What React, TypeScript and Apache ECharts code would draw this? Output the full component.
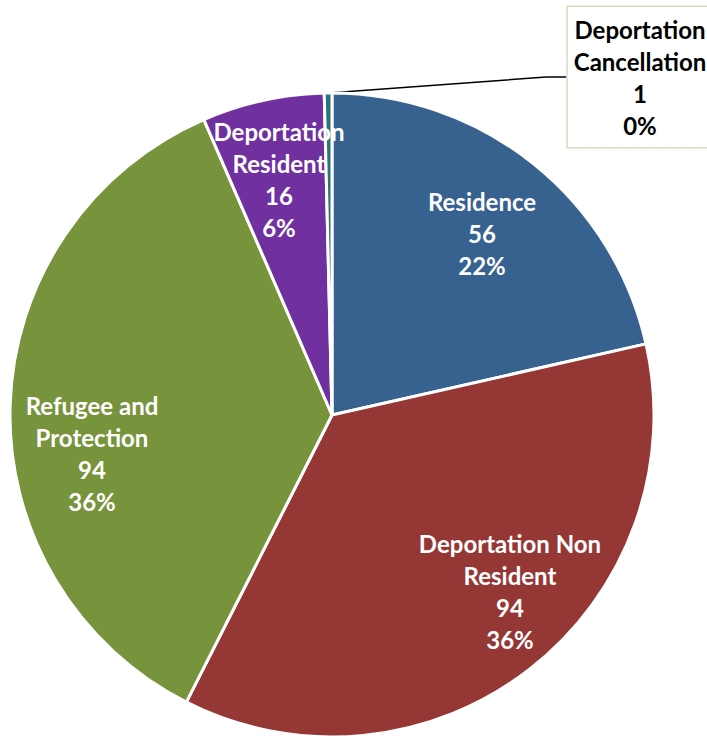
import React, { useEffect, useRef } from "react";
import * as echarts from "echarts";

const categories = [
  "Residence",
  "Deportation Non\nResident",
  "Refugee and\nProtection",
  "Deportation\nResident",
  "Deportation\nCancellation",
];
const values = [56, 94, 94, 16, 1];
const colors = ["#37618F", "#953735", "#77933C", "#7030A0", "#2A7479"];

// label centres (layout only)
const labelPos = [
  [482, 233],
  [510, 591],
  [92, 453],
  [279, 179],
  [640, 77],
];

export default function App() {
  const ref = useRef<HTMLDivElement>(null);
  useEffect(() => {
    if (!ref.current) return;
    const chart = echarts.init(ref.current, null, { renderer: "svg" });
    const font = "Lato, 'Noto Sans', sans-serif";
    chart.setOption({
      animation: false,
      backgroundColor: "#ffffff",
      series: [
        {
          type: "pie",
          center: [332, 415],
          radius: 322,
          startAngle: 90,
          clockwise: true,
          avoidLabelOverlap: false,
          percentPrecision: 0,
          itemStyle: { borderColor: "#ffffff", borderWidth: 3 },
          label: {
            show: true,
            position: "inside",
            formatter: "{b}\n{c}\n{d}%",
            color: "#ffffff",
            fontFamily: font,
            fontWeight: "bold",
            fontSize: 24,
            lineHeight: 32,
            align: "center",
          },
          labelLine: { show: false },
          labelLayout: (p: any) => {
            const pos = labelPos[p.dataIndex];
            return { x: pos[0], y: pos[1], align: "center", verticalAlign: "middle" };
          },
          data: categories.map((name, i) => {
            const item: any = {
              name,
              value: values[i],
              itemStyle: { color: colors[i] },
            };
            if (i === 4) {
              item.label = {
                position: "outside",
                color: "#000000",
                backgroundColor: "#ffffff",
                borderColor: "#D9D9C3",
                borderWidth: 1.5,
                padding: [6, 6],
              };
              item.labelLine = {
                show: true,
                length: 20,
                length2: 20,
                lineStyle: { color: "#000000", width: 1.5 },
              };
            }
            return item;
          }),
        },
      ],
    });
    return () => chart.dispose();
  }, []);
  return (
    <div
      ref={ref}
      style={{ position: "fixed", left: 0, top: 0, width: 707, height: 738 }}
    />
  );
}
